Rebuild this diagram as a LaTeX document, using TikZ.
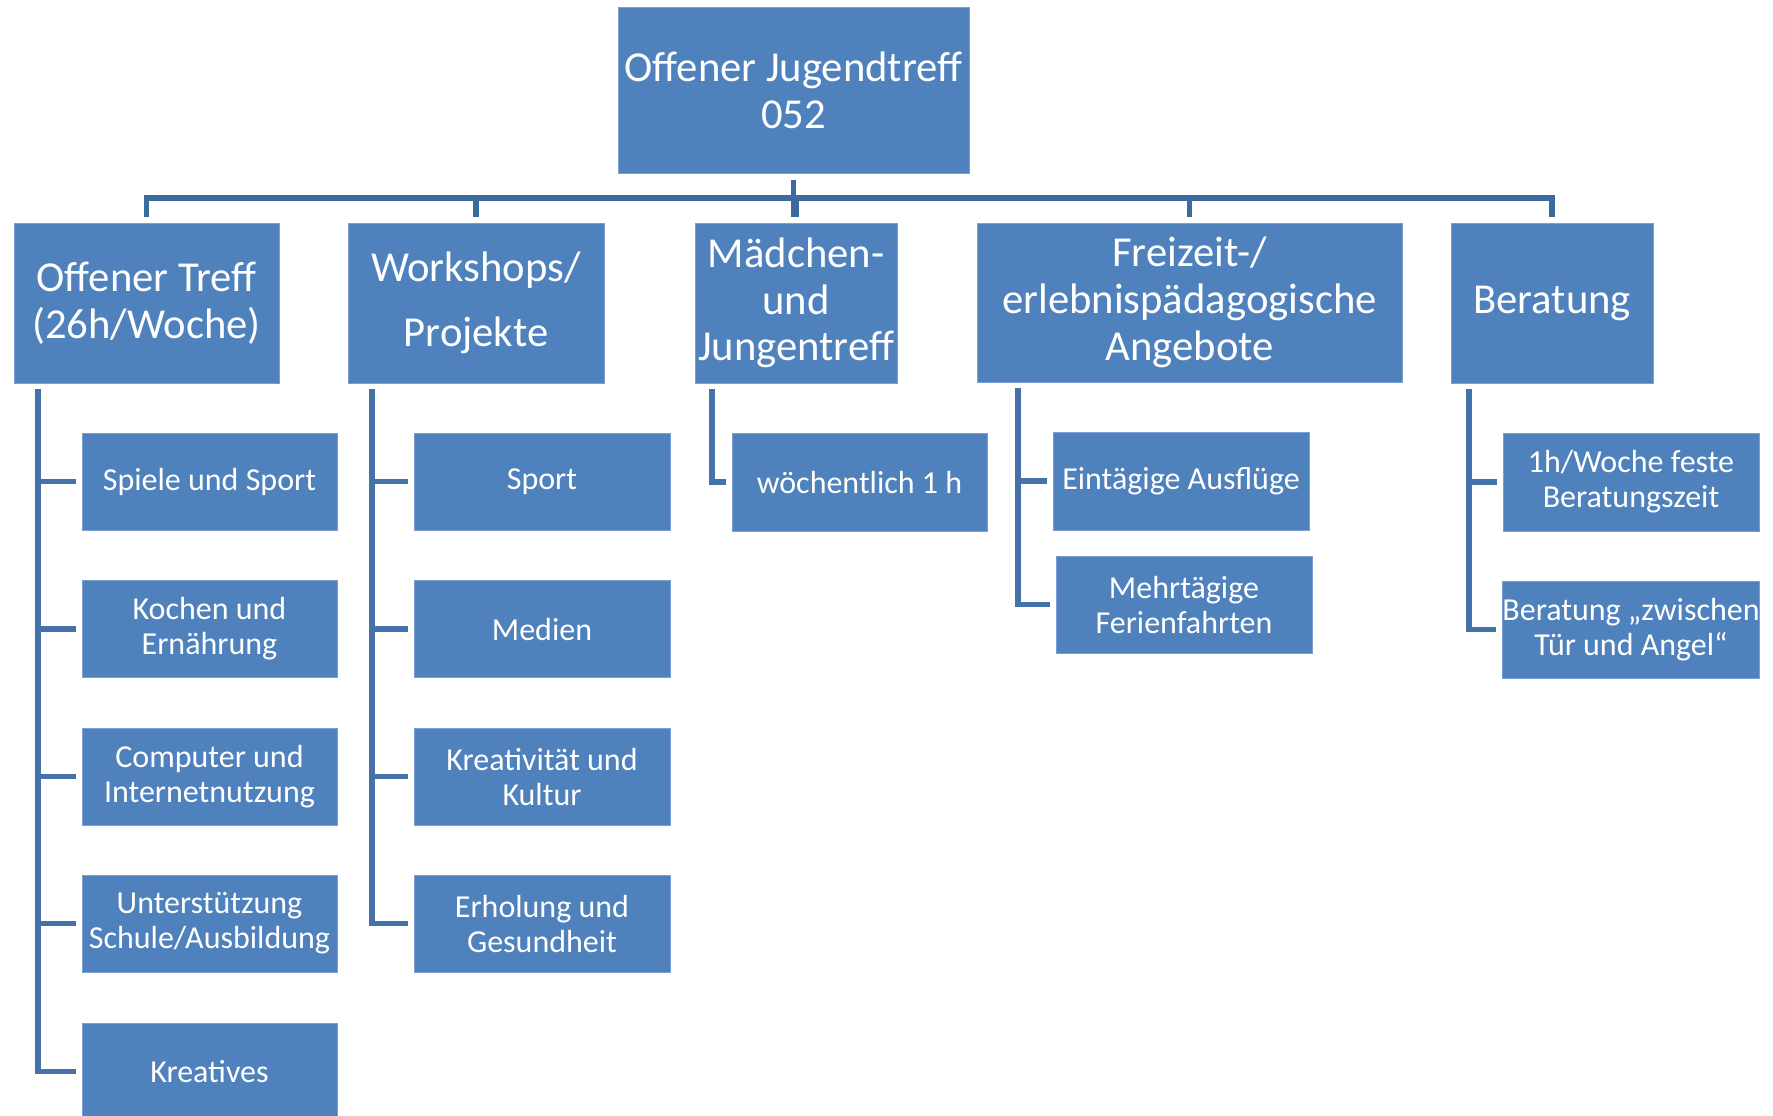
\documentclass[tikz,border=0pt]{standalone}
\usepackage{fontspec}
\setmainfont{Carlito}
\definecolor{boxblue}{HTML}{4F81BD}
\definecolor{busline}{HTML}{3D6A9C}
\definecolor{subline}{HTML}{4672AA}
\definecolor{rim}{HTML}{7A9FD0}
\begin{document}
\begin{tikzpicture}[x=0.75pt,y=-0.75pt,
  box/.style={draw=rim, line width=0.6pt, fill=boxblue, text=white, inner sep=0pt, align=center},
  sz/.style 2 args={minimum width=#1*0.75pt, minimum height=#2*0.75pt},
  big/.style={box, font=\fontsize{32pt}{35pt}\selectfont},
  small/.style={box, font=\fontsize{24pt}{26.25pt}\selectfont},
  bus/.style={draw=busline, line width=3.9pt},
  sub/.style={draw=subline, line width=4.2pt}]
\useasboundingbox (0,0) rectangle (1773,1115);
\clip (0,0) rectangle (1773,1115);
% level 0 and 1
\node[big, sz={351}{166}] (root) at (793.5,90) {Offener Jugendtreff\\052};
\node[big, sz={265}{160}] (a) at (146.5,303) {Offener Treff\\(26h/Woche)};
\node[big, sz={256}{160}, font=\fontsize{32pt}{48.75pt}\selectfont] (b) at (476,303) {Workshops/\\Projekte};
\node[big, sz={202}{160}] (c) at (796,303) {Mädchen-\\und\\Jungentreff};
\node[big, sz={425}{159}] (d) at (1189.5,302.5) {Freizeit-/\\erlebnispädagogische\\Angebote};
\node[big, sz={202}{160}] (e) at (1552,303) {\raisebox{-2pt}{Beratung}};
% level 2
\node[small, sz={255}{97}] (a1) at (209.5,481.5) {Spiele und Sport};
\node[small, sz={255}{97}] (a2) at (209.5,629) {Kochen und\\Ernährung};
\node[small, sz={255}{97}] (a3) at (209.5,776.5) {Computer und\\Internetnutzung};
\node[small, sz={255}{97}] (a4) at (209.5,923.5) {Unterstützung\\Schule/Ausbildung};
\node[small, sz={255}{97}] (a5) at (209.5,1071.5) {Kreatives};
\node[small, sz={256}{97}] (b1) at (542,481.5) {Sport};
\node[small, sz={256}{97}] (b2) at (542,629) {Medien};
\node[small, sz={256}{97}] (b3) at (542,776.5) {Kreativität und\\Kultur};
\node[small, sz={256}{97}] (b4) at (542,923.5) {Erholung und\\Gesundheit};
\node[small, sz={255}{98}] (c1) at (859.5,482) {wöchentlich 1 h};
\node[small, sz={256}{98}] (d1) at (1181,481) {Eintägige Ausflüge};
\node[small, sz={256}{97}] (d2) at (1184,604.5) {Mehrtägige\\Ferienfahrten};
\node[small, sz={256}{98}] (e1) at (1631,482) {1h/Woche feste\\Beratungszeit};
\node[small, sz={256}{97}] (e2) at (1631,629.5) {Beratung „zwischen\\Tür und Angel“};
% bus
\coordinate (busy) at (0,198);
\draw[bus] ([yshift=-5.25pt]root.south) -- ([yshift=4.5pt]root.south |- a.north);
\draw[bus] ([yshift=4.5pt]a.north) -- (a.north |- busy) -- (e.north |- busy) -- ([yshift=4.5pt]e.north);
\foreach \n in {b,c,d} \draw[bus] ([yshift=4.5pt]\n.north) -- (\n.north |- busy);
% sub connectors
\coordinate (av) at (38,389);
\coordinate (bv) at (372,389);
\coordinate (cv) at (712,389);
\coordinate (dv) at (1018,388);
\coordinate (ev) at (1469,389);
\draw[sub] (av) -- (av |- a5.west) -- ([xshift=-4.5pt]a5.west);
\foreach \n in {a1,a2,a3,a4} \draw[sub] (av |- \n.west) -- ([xshift=-4.5pt]\n.west);
\draw[sub] (bv) -- (bv |- b4.west) -- ([xshift=-4.5pt]b4.west);
\foreach \n in {b1,b2,b3} \draw[sub] (bv |- \n.west) -- ([xshift=-4.5pt]\n.west);
\draw[sub] (cv) -- (cv |- c1.west) -- ([xshift=-4.5pt]c1.west);
\draw[sub] (dv) -- (dv |- d2.west) -- ([xshift=-4.5pt]d2.west);
\draw[sub] (dv |- d1.west) -- ([xshift=-4.5pt]d1.west);
\draw[sub] (ev) -- (ev |- e2.west) -- ([xshift=-4.5pt]e2.west);
\draw[sub] (ev |- e1.west) -- ([xshift=-4.5pt]e1.west);
\end{tikzpicture}
\end{document}
